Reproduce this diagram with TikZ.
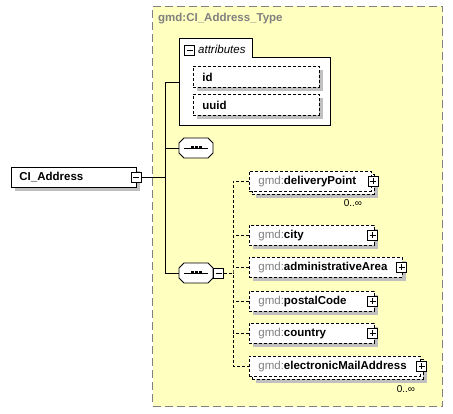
\documentclass[tikz,border=0pt]{standalone}
\usepackage{fontspec}
\setmainfont{Liberation Sans}
\usetikzlibrary{shadows,calc}
\definecolor{bgyel}{RGB}{255,255,192}
\definecolor{shadgray}{RGB}{192,192,192}
\definecolor{tgray}{RGB}{128,128,128}
\newcommand\seqoct[2]{\path[#2] ($(#1)+(-12,-10)$) -- ($(#1)+(12,-10)$) -- ($(#1)+(17,-5)$) -- ($(#1)+(17,5)$) -- ($(#1)+(12,10)$) -- ($(#1)+(-12,10)$) -- ($(#1)+(-17,5)$) -- ($(#1)+(-17,-5)$) -- cycle;}
\newcommand\seqdots[1]{\draw[line width=0.8pt] ($(#1)+(-12,0)$) -- ($(#1)+(12,0)$);
  \foreach \d in {-4,0,4} \fill ($(#1)+(\d-1.5,-1.5)$) rectangle ++(3,3);}
\begin{document}
\begin{tikzpicture}[x=1pt,y=-1pt,
  every node/.style={font=\fontsize{11.5}{13}\selectfont},
  sh/.style={drop shadow={shadow xshift=4pt,shadow yshift=-4pt,fill=shadgray,opacity=1}},
  ebox/.style={draw, dash pattern=on 3pt off 2pt, line width=0.8pt, fill=white, minimum height=20pt, inner xsep=9pt, inner ysep=0pt, align=left, anchor=north west},
  backbox/.style={draw, dash pattern=on 3pt off 2pt, line width=0.8pt, fill=white, inner sep=0pt, minimum height=20pt, anchor=north west},
  pbox/.style={draw, solid, line width=0.8pt, fill=white, minimum size=10pt, inner sep=0pt,
    path picture={\draw[line width=0.8pt] ([xshift=2pt]path picture bounding box.west) -- ([xshift=-2pt]path picture bounding box.east);
                  \draw[line width=0.8pt] ([yshift=-2pt]path picture bounding box.north) -- ([yshift=2pt]path picture bounding box.south);}},
  mbox/.style={draw, solid, line width=0.8pt, fill=white, minimum size=10pt, inner sep=0pt,
    path picture={\draw[line width=0.8pt] ([xshift=2pt]path picture bounding box.west) -- ([xshift=-2pt]path picture bounding box.east);}},
  seqbox/.style={minimum width=34pt, minimum height=20pt, inner sep=0pt},
  conn/.style={line width=0.8pt},
  dconn/.style={line width=0.8pt, dash pattern=on 3pt off 2pt},
  mult/.style={font=\fontsize{10}{12}\selectfont, inner sep=0pt}
]
\useasboundingbox (0,0) rectangle (453,414);

% complex type area
\node[draw=tgray, line width=1pt, dash pattern=on 8pt off 4pt, fill=bgyel, minimum width=290pt, minimum height=400pt, inner sep=0pt, anchor=north west] (type) at (152,6) {};
\node[anchor=west, inner sep=0pt, text=tgray, font=\fontsize{11.5}{13}\selectfont\bfseries] (title) at (158,19) {gmd:CI\_Address\_Type};

% attributes group
\draw[line width=0.8pt, fill=white] (179,125) -- (179,38) -- (252,38) -- (252,57) -- (330,57) -- (330,125) -- cycle;
\node[minimum width=151pt, minimum height=87pt, inner sep=0pt, anchor=north west] (attr) at (179,38) {};
\node[mbox] (attrm) at (189.5,50) {};
\node[anchor=west, inner sep=0pt, font=\fontsize{11.5}{13}\selectfont\itshape] (attrlbl) at (198,49) {attributes};
\node[ebox, sh, minimum height=21pt, text width=108pt] (id) at (193,66) {\textbf{id}};
\node[ebox, sh, minimum height=21pt, text width=108pt] (uuid) at (193,94) {\textbf{uuid}};

% root element
\node[draw, line width=0.8pt, fill=white, sh, minimum height=20pt, text width=109pt, inner xsep=8pt, inner ysep=0pt, align=left, anchor=north west] (ci) at (11,167) {\textbf{CI\_Address}};
\node[mbox] (cim) at ($(ci.east)+(-0.5,0)$) {};

% sequences
\node[seqbox] (s1) at (196,148) {};
\seqoct{s1}{fill=shadgray, xshift=4pt, yshift=-4pt}
\seqoct{s1}{draw, fill=white, line width=0.8pt}
\seqdots{s1}
\node[seqbox] (s2) at (196,273) {};
\seqoct{s2}{fill=shadgray, xshift=4pt, yshift=-4pt}
\seqoct{s2}{draw, fill=white, line width=0.8pt}
\seqdots{s2}
\node[mbox] (s2m) at ($(s2.east)+(5.5,0)$) {};

% child elements
\node[backbox, sh, minimum width=122pt] (dpb) at (252,174) {};
\node[ebox, text width=104pt] (dp) at (249,171) {{\color{tgray}gmd:}\textbf{deliveryPoint}};
\node[pbox] (dpp) at ($(dp.east)+(1.5,0)$) {};
\node[mult] (dpm) at (353,203) {0..∞};

\node[ebox, sh, text width=107pt] (city) at (249,225) {{\color{tgray}gmd:}\textbf{city}};
\node[pbox] (cityp) at ($(city.east)+(-2,0)$) {};

\node[ebox, sh, text width=135pt] (aa) at (249,257) {{\color{tgray}gmd:}\textbf{administrativeArea}};
\node[pbox] (aap) at ($(aa.east)+(-1,0)$) {};

\node[ebox, sh, text width=107pt] (pc) at (249,291) {{\color{tgray}gmd:}\textbf{postalCode}};
\node[pbox] (pcp) at ($(pc.east)+(-2,0)$) {};

\node[ebox, sh, text width=107pt] (co) at (249,323) {{\color{tgray}gmd:}\textbf{country}};
\node[pbox] (cop) at ($(co.east)+(-2,0)$) {};

\node[backbox, sh, minimum width=171pt] (emb) at (252,359) {};
\node[ebox, text width=153pt] (em) at (249,356) {{\color{tgray}gmd:}\textbf{electronicMailAddress}};
\node[pbox] (emp) at ($(em.east)+(1,0)$) {};
\node[mult] (emm) at (406,389) {0..∞};

% solid connectors
\coordinate (trunk) at (165,82);
\draw[conn] (attr.west |- trunk) -- (trunk) |- (s2.west);
\draw[conn] (cim.east) -- (cim.east -| trunk);
\draw[conn] (s1.west -| trunk) -- (s1.west);

% dashed connectors
\coordinate (choice) at (233,273);
\draw[dconn] (s2m.east) -- (choice);
\draw[dconn] (dp.west) -| (choice) |- (em.west);
\draw[dconn] (city.west) -- (city.west -| choice);
\draw[dconn] (aa.west) -- (aa.west -| choice);
\draw[dconn] (pc.west) -- (pc.west -| choice);
\draw[dconn] (co.west) -- (co.west -| choice);
\end{tikzpicture}
\end{document}
